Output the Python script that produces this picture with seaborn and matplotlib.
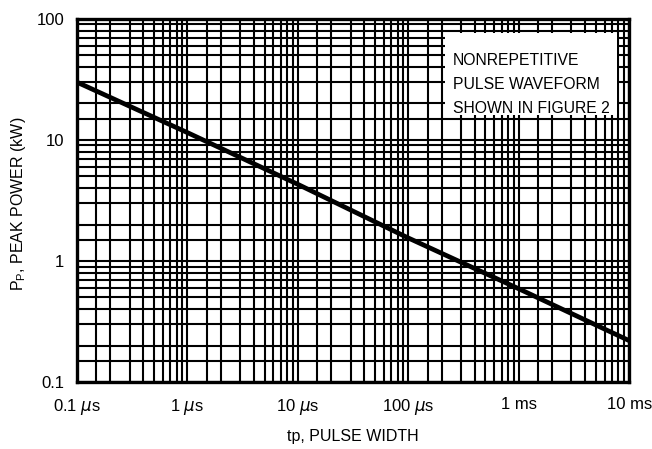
import matplotlib
matplotlib.use("Agg")
import matplotlib.pyplot as plt
import matplotlib.patches as mpatches
from matplotlib import font_manager
from matplotlib.ticker import LogLocator, FixedLocator, NullFormatter
import seaborn as sns
import pandas as pd

# ---- data ----
pulse_width_s = [1e-7, 1e-6, 1e-5, 1e-4, 1e-3, 1e-2]
peak_power_kw = [30.0, 11.5, 4.3, 1.55, 0.59, 0.22]

x_tick_values = [1e-7, 1e-6, 1e-5, 1e-4, 1e-3, 1e-2]
x_tick_labels = [r"0.1 $\mu$s", r"1 $\mu$s", r"10 $\mu$s", r"100 $\mu$s", "1 ms", "10 ms"]
y_tick_values = [0.1, 1, 10, 100]
y_tick_labels = ["0.1", "1", "10", "100"]
grid_subs = [1.5, 2, 3, 4, 5, 6, 7, 8, 9]
note_lines = ["NONREPETITIVE", "PULSE WAVEFORM", "SHOWN IN FIGURE 2"]

sns.set_theme(style="white")

installed = {f.name for f in font_manager.fontManager.ttflist}
narrow = "Liberation Sans Narrow" in installed
if narrow:
    plt.rcParams['font.family'] = ['Liberation Sans Narrow', 'DejaVu Sans']
    tick_fs, label_fs, note_fs = 14, 14, 14.5
else:
    plt.rcParams['font.family'] = ['Liberation Sans', 'DejaVu Sans']
    tick_fs, label_fs, note_fs = 12, 11.5, 11.3
plt.rcParams['mathtext.fontset'] = 'dejavusans'

df = pd.DataFrame({"tp": pulse_width_s, "pp": peak_power_kw})

fig = plt.figure(figsize=(6.52, 4.49), dpi=100)
ax = fig.add_axes([0.118, 0.149, 0.847, 0.809])

sns.lineplot(data=df, x="tp", y="pp", ax=ax, color="black", linewidth=3.4, zorder=3)

ax.set_xscale("log")
ax.set_yscale("log")
ax.set_xlim(1e-7, 1e-2)
ax.set_ylim(0.1, 100)

ax.xaxis.set_major_locator(FixedLocator(x_tick_values))
ax.set_xticklabels(x_tick_labels)
ax.yaxis.set_major_locator(FixedLocator(y_tick_values))
ax.set_yticklabels(y_tick_labels)
ax.xaxis.set_minor_locator(LogLocator(base=10, subs=grid_subs, numticks=50))
ax.yaxis.set_minor_locator(LogLocator(base=10, subs=grid_subs, numticks=50))
ax.xaxis.set_minor_formatter(NullFormatter())
ax.yaxis.set_minor_formatter(NullFormatter())

ax.set_axisbelow(True)
ax.grid(True, which="both", color="black", linewidth=1.5)
ax.tick_params(which="both", length=0, labelsize=tick_fs, colors="black")
ax.tick_params(axis="x", pad=11)
ax.tick_params(axis="y", pad=9)

for s in ax.spines.values():
    s.set_color("black")
    s.set_linewidth(2.4)
    s.set_visible(True)

ax.set_xlabel("tp, PULSE WIDTH", fontsize=label_fs, color="black")
ax.set_ylabel(r"P$_\mathregular{P}$, PEAK POWER (kW)", fontsize=label_fs, color="black")
ax.xaxis.set_label_coords(0.5, -0.13)
ax.yaxis.set_label_coords(-0.088, 0.49)

# white box for the note
rect = mpatches.Rectangle((0.667, 0.736), 0.311, 0.225, transform=ax.transAxes,
                          facecolor="white", edgecolor="none", zorder=2.5)
ax.add_patch(rect)
for line, ypos in zip(note_lines, [0.873, 0.808, 0.741]):
    ax.text(0.681, ypos, line, transform=ax.transAxes, ha="left", va="baseline",
            fontsize=note_fs, color="black", zorder=4)

fig.savefig("out.png", dpi=100)
